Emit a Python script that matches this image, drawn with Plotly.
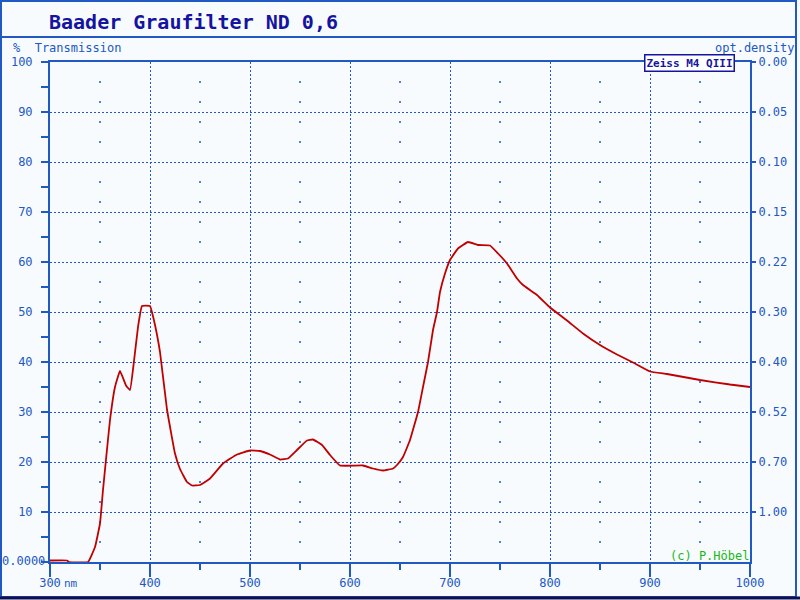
import plotly.graph_objects as go

# ---- data ----
wavelength_nm = [300, 317, 319, 338, 345, 350, 353, 356, 360, 365, 370, 376, 380, 384, 388, 392,
                 400, 404, 410, 417, 425, 430, 437, 442, 450, 460, 473, 487, 500, 510, 520, 530,
                 538, 547, 557, 563, 572, 580, 590, 613, 623, 633, 643, 647, 653, 660, 668, 673,
                 678, 683, 687, 690, 695, 700, 708, 718, 728, 740, 748, 757, 767, 773, 787, 800,
                 817, 833, 850, 867, 883, 900, 917, 950, 980, 1000]
transmission = [0.3, 0.3, 0.0, 0.0, 3.0, 7.7, 14.4, 20.5, 28.4, 35.0, 38.2, 35.3, 34.4, 40.2, 47.0, 51.2,
                51.2, 48.3, 42.0, 30.5, 21.7, 18.6, 16.0, 15.3, 15.4, 16.7, 19.7, 21.5, 22.3, 22.2, 21.5, 20.5,
                20.7, 22.4, 24.3, 24.5, 23.4, 21.4, 19.3, 19.3, 18.7, 18.3, 18.7, 19.4, 21.0, 24.4, 30.0, 35.0,
                40.0, 46.4, 50.0, 54.0, 57.7, 60.4, 62.7, 64.0, 63.4, 63.3, 61.7, 59.7, 56.7, 55.4, 53.4, 50.9,
                48.3, 45.7, 43.4, 41.5, 39.9, 38.1, 37.6, 36.4, 35.5, 35.0]

x_ticks = [300, 400, 500, 600, 700, 800, 900, 1000]
x_ticktext = ["300", "400", "500", "600", "700", "800", "900", "1000"]
y_ticks = [0, 10, 20, 30, 40, 50, 60, 70, 80, 90, 100]
y_ticktext = ["", "10", "20", "30", "40", "50", "60", "70", "80", "90", "100"]
od_ticks = [100, 90, 80, 70, 60, 50, 40, 30, 20, 10]
od_ticktext = ["0.00", "0.05", "0.10", "0.15", "0.22", "0.30", "0.40", "0.52", "0.70", "1.00"]

# decorative minor grid dots
dot_cols = [350, 450, 550, 650, 750, 850, 950]
dot_rows = [4, 8, 12, 16, 24, 28, 32, 36, 44, 48, 52, 56, 64, 68, 72, 76, 84, 88, 92, 96]

BLUE = "#2058c4"
DARK = "#1414a0"
BG = "#f8fbfe"
FONT = "DejaVu Sans Mono"

W, H = 800, 600
L, R, T, B = 50, 50, 62, 38
PW, PH = W - L - R, H - T - B


def px(xp):
    return (xp - L) / PW


def py(yp):
    return (H - B - yp) / PH


dx = [c for c in dot_cols for _ in dot_rows]
dy = [r for _ in dot_cols for r in dot_rows]

fig = go.Figure()
fig.add_trace(go.Scatter(x=dx, y=dy, mode="markers", hoverinfo="skip",
                         marker=dict(size=2, color=BLUE, line=dict(width=0)), showlegend=False))
fig.add_trace(go.Scatter(x=wavelength_nm, y=transmission, mode="lines",
                         line=dict(color="#c00000", width=1.8, shape="spline", smoothing=0.3),
                         showlegend=False))
fig.add_trace(go.Scatter(x=[300], y=[0], yaxis="y2", mode="markers",
                         marker=dict(opacity=0), showlegend=False, hoverinfo="skip"))

fig.update_layout(
    template="none",
    width=W, height=H, autosize=False,
    margin=dict(l=L, r=R, t=T, b=B, pad=0),
    paper_bgcolor=BG, plot_bgcolor=BG,
    xaxis=dict(range=[300, 1000], tickvals=x_ticks, ticktext=x_ticktext, automargin=False,
               ticks="outside", ticklen=13, tickwidth=2, tickcolor=BLUE,
               showline=True, linewidth=2, linecolor=BLUE, mirror=True,
               showgrid=True, gridcolor=BLUE, gridwidth=1.2, griddash="2px,2px",
               zeroline=False, ticklabelstandoff=-4,
               minor=dict(dtick=50, tick0=300, ticks="outside", ticklen=6, tickwidth=2,
                          tickcolor=BLUE, showgrid=False),
               tickfont=dict(family=FONT, size=12, color=BLUE)),
    yaxis=dict(range=[0, 100], tickvals=y_ticks, ticktext=y_ticktext, automargin=False,
               ticks="outside", ticklen=7, tickwidth=2, tickcolor=BLUE,
               showline=True, linewidth=2, linecolor=BLUE,
               showgrid=True, gridcolor=BLUE, gridwidth=1.2, griddash="2px,2px",
               zeroline=False, ticklabelstandoff=6,
               minor=dict(dtick=5, tick0=0, ticks="outside", ticklen=7, tickwidth=2,
                          tickcolor=BLUE, showgrid=False),
               tickfont=dict(family=FONT, size=12, color=BLUE)),
    yaxis2=dict(range=[0, 100], overlaying="y", side="right", automargin=False,
                tickvals=od_ticks, ticktext=od_ticktext,
                ticks="outside", ticklen=4, tickwidth=2, tickcolor=BLUE,
                showline=True, linewidth=2, linecolor=BLUE,
                showgrid=False, zeroline=False,
                tickfont=dict(family=FONT, size=12, color=BLUE)),
)

# frame
fig.add_shape(type="rect", xref="paper", yref="paper",
              x0=px(1), x1=px(796), y0=py(597), y1=py(1),
              line=dict(color=BLUE, width=2), layer="below")
fig.add_shape(type="line", xref="paper", yref="paper",
              x0=px(1), x1=px(796), y0=py(37), y1=py(37),
              line=dict(color=BLUE, width=2))
fig.add_shape(type="line", xref="paper", yref="paper",
              x0=px(0), x1=px(800), y0=py(598), y1=py(598),
              line=dict(color="#101050", width=3))

ann = [
    dict(text="<b>Baader Graufilter ND 0,6</b>", x=px(47), y=py(22), xanchor="left", yanchor="middle",
         font=dict(family=FONT, size=20, color=DARK)),
    dict(text="%  Transmission", x=px(11), y=py(48), xanchor="left", yanchor="middle",
         font=dict(family=FONT, size=12, color=BLUE)),
    dict(text="opt.density", x=px(796), y=py(48), xanchor="right", yanchor="middle",
         font=dict(family=FONT, size=12, color=BLUE)),
    dict(text="<b>Zeiss M4 QIII</b>", x=px(689), y=py(63), xanchor="center", yanchor="middle",
         font=dict(family=FONT, size=11, color=DARK), bgcolor="white",
         bordercolor=DARK, borderwidth=1.5, borderpad=1),
    dict(text="(c) P.Höbel", x=px(751), y=py(556), xanchor="right", yanchor="middle",
         font=dict(family=FONT, size=12, color="#18b818")),
    dict(text="0.0000", x=px(47), y=py(561), xanchor="right", yanchor="middle",
         font=dict(family=FONT, size=12, color=BLUE)),
    dict(text="nm", x=px(62), y=py(583), xanchor="left", yanchor="middle",
         font=dict(family=FONT, size=11, color=BLUE)),
]
for a in ann:
    fig.add_annotation(xref="paper", yref="paper", showarrow=False, **a)

fig.write_html("out.html",
               config={"displayModeBar": False, "responsive": False},
               post_script="document.body.style.margin='0';document.body.style.overflow='hidden';")
